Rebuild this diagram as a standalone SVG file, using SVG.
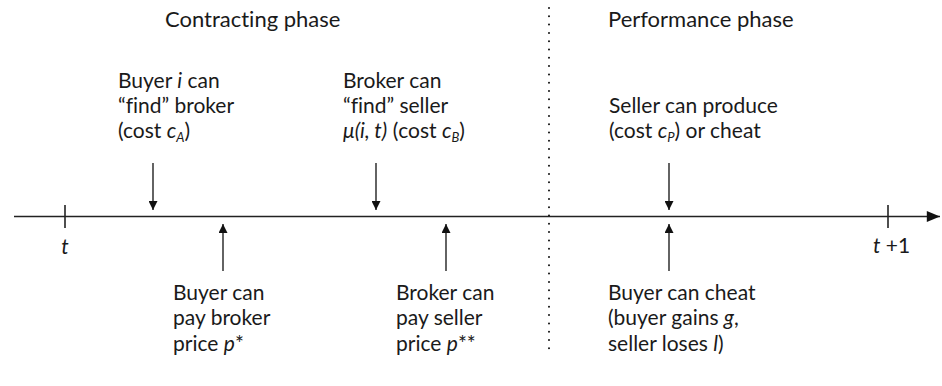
<svg xmlns="http://www.w3.org/2000/svg" width="942" height="386" viewBox="0 0 942 386">
<defs>
<marker id="ah" viewBox="0 0 10 10" refX="10" refY="5" markerWidth="11" markerHeight="9" markerUnits="userSpaceOnUse" orient="auto">
<path d="M0,0 L10,5 L0,10 Z" fill="#111"/>
</marker>
<marker id="axh" viewBox="0 0 12 10" refX="12" refY="5" markerWidth="14" markerHeight="11" markerUnits="userSpaceOnUse" orient="auto">
<path d="M0,0 L12,5 L0,10 Z" fill="#111"/>
</marker>
</defs>
<style>
text { font-family: Lato, "Open Sans", "Liberation Sans", sans-serif; fill: #1a1a1a; font-variant-ligatures: none; }
.t { font-size: 21px; }
.h { font-size: 22px; }
.i { font-style: italic; }
.s { font-size: 13px; font-style: italic; }
.ln { stroke: #222; stroke-width: 1.6; fill: none; }
.ar { stroke: #222; stroke-width: 1.4; fill: none; marker-end: url(#ah); }
</style>
<rect width="942" height="386" fill="#fff"/>

<g id="headers">
<text class="h" x="165" y="27">Contracting phase</text>
<text class="h" x="608" y="27">Performance phase</text>
</g>

<g id="divider">
<line x1="549" y1="8" x2="549" y2="350" stroke="#111" stroke-width="2" stroke-dasharray="0 8.3" stroke-linecap="round"/>
</g>

<g id="timeline">
<line class="ln" x1="14" y1="216.5" x2="940" y2="216.5" marker-end="url(#axh)"/>
<line class="ln" x1="65" y1="205" x2="65" y2="228"/>
<line class="ln" x1="888" y1="205" x2="888" y2="228"/>
<text class="t i" x="65" y="254" text-anchor="middle">t</text>
<text class="t" x="873" y="253"><tspan class="i">t</tspan> +1</text>
</g>

<g id="connectors">
<line class="ar" x1="153" y1="163" x2="153" y2="210"/>
<line class="ar" x1="376" y1="163" x2="376" y2="210"/>
<line class="ar" x1="669" y1="163" x2="669" y2="210"/>
<line class="ar" x1="223" y1="271" x2="223" y2="224"/>
<line class="ar" x1="446" y1="271" x2="446" y2="224"/>
<line class="ar" x1="669" y1="271" x2="669" y2="224"/>
</g>

<g id="buyer-find">
<text class="t" x="118" y="87.5">Buyer <tspan class="i">i</tspan> can</text>
<text class="t" x="118" y="112.5">“find” broker</text>
<text class="t" x="118" y="137.5">(cost <tspan class="i">c</tspan><tspan class="s" dy="4">A</tspan><tspan dy="-4">)</tspan></text>
</g>

<g id="broker-find">
<text class="t" x="343" y="87.5">Broker can</text>
<text class="t" x="343" y="112.5">“find” seller</text>
<text class="t" x="343" y="137.5"><tspan class="i">μ(i, t)</tspan> (cost <tspan class="i">c</tspan><tspan class="s" dy="4">B</tspan><tspan dy="-4">)</tspan></text>
</g>

<g id="seller-produce">
<text class="t" x="609" y="112.5">Seller can produce</text>
<text class="t" x="609" y="137.5">(cost <tspan class="i">c</tspan><tspan class="s" dy="4">P</tspan><tspan dy="-4">) or cheat</tspan></text>
</g>

<g id="buyer-pay">
<text class="t" x="173" y="299.5">Buyer can</text>
<text class="t" x="173" y="325">pay broker</text>
<text class="t" x="173" y="350.5">price <tspan class="i">p</tspan>*</text>
</g>

<g id="broker-pay">
<text class="t" x="396" y="299.5">Broker can</text>
<text class="t" x="396" y="325">pay seller</text>
<text class="t" x="396" y="350.5">price <tspan class="i">p</tspan>**</text>
</g>

<g id="buyer-cheat">
<text class="t" x="608" y="299.5">Buyer can cheat</text>
<text class="t" x="608" y="325">(buyer gains <tspan class="i">g</tspan>,</text>
<text class="t" x="608" y="350.5">seller loses <tspan class="i">l</tspan>)</text>
</g>
</svg>
